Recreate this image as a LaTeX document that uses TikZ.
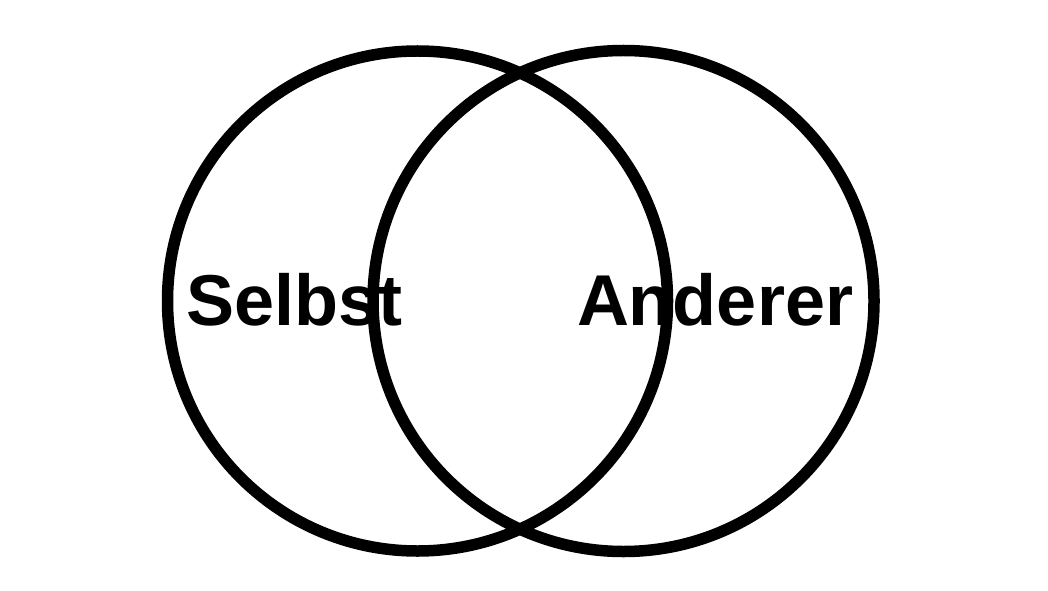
\documentclass[tikz,border=0pt]{standalone}
\usepackage{fontspec}
\setmainfont{Liberation Sans}
\begin{document}
\begin{tikzpicture}[x=1pt,y=1pt,
  ring/.style={draw=black,line width=11.5pt},
  lbl/.style={inner sep=0pt,outer sep=0pt,anchor=base west,font=\fontsize{72}{80}\selectfont\bfseries}]
\useasboundingbox (0,0) rectangle (1048,590);
\node[ring,circle,minimum size=500pt,inner sep=0pt] (L) at (417.5,289) {};
\node[ring,circle,minimum size=501pt,inner sep=0pt] (R) at (623.5,289) {};
\node[lbl] (selbst) at (186,265) {Selbst};
\node[lbl] (anderer) at (577,265) {Anderer};
\end{tikzpicture}
\end{document}
